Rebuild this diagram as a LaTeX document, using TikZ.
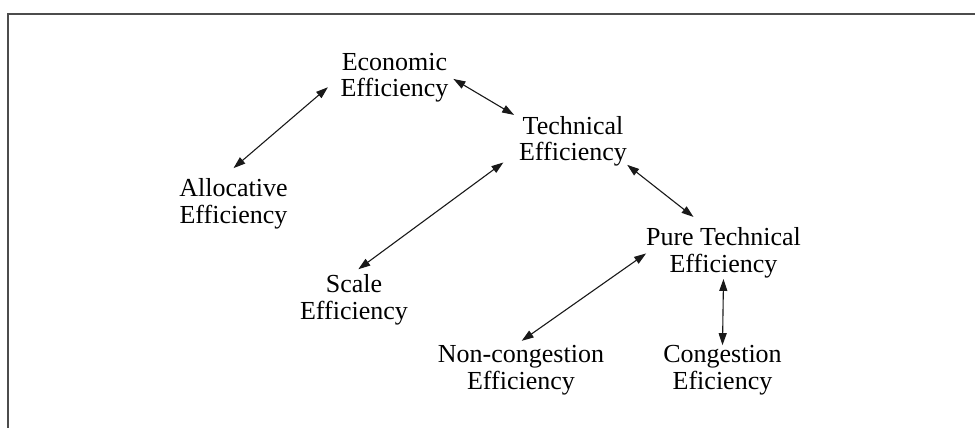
\documentclass[tikz,border=0pt]{standalone}
\usepackage{fontspec}
\setmainfont{Liberation Serif}
\usepackage{graphicx}
\usetikzlibrary{arrows.meta}
\newcommand{\lbl}[2]{\begin{tabular}[t]{@{}c@{}}#1\\#2\end{tabular}}
\tikzset{
  txt/.style={inner sep=0pt, outer sep=0pt, anchor=base, text=black,
    font=\fontsize{13}{13.25}\selectfont},
  link/.style={line width=0.55pt, black!90,
    {Triangle[length=6pt,width=4pt]}-{Triangle[length=6pt,width=4pt]}},
  frame/.style={line width=1pt, black!70}
}
\begin{document}
\begin{tikzpicture}[x=0.5pt,y=-0.5pt]
\useasboundingbox (0,0) rectangle (975,428);
\fill[white] (0,0) rectangle (975,428);
\coordinate (fr) at (975,13.5);
\coordinate (fc) at (8,13.5);
\coordinate (fb) at (8,428);
\draw[frame] (fr) -- (fc) -- (fb);

\node[txt] (econ) at (394.5,70) {\lbl{Economic}{Efficiency}};
\node[txt] (tech) at (573,134) {\lbl{Technical}{Efficiency}};
\node[txt] (alloc) at (233.5,196.7) {\lbl{Allocative}{Efficiency}};
\node[txt] (scale) at (354,292.8) {\lbl{Scale}{Efficiency}};
\node[txt] (pure) at (723.5,245.5) {\lbl{Pure Technical}{Efficiency}};
\node[txt] (noncong) at (521,362.7) {\lbl{Non-congestion}{Efficiency}};
\node[txt] (cong) at (722.5,362.7) {\lbl{Congestion}{Eficiency}};

\draw[link] ([shift={(0,-10)}]alloc.north) -- ([shift={(-12.7,9.3)}]econ.west);
\draw[link] ([shift={(5,1)}]econ.east) -- ([shift={(-5,-0.5)}]tech.north west);
\draw[link] ([shift={(4.3,-5)}]scale.north) -- ([shift={(-15.7,-6)}]tech.south west);
\draw[link] ([shift={(0.3,-3.6)}]tech.south east) -- ([shift={(-30,-10)}]pure.north);
\draw[link] ([shift={(0.7,-3.3)}]noncong.north) -- (pure.west);
\draw[link] ([shift={(0,-1)}]pure.south) -- ([shift={(0,1)}]cong.north);
\end{tikzpicture}
\end{document}
